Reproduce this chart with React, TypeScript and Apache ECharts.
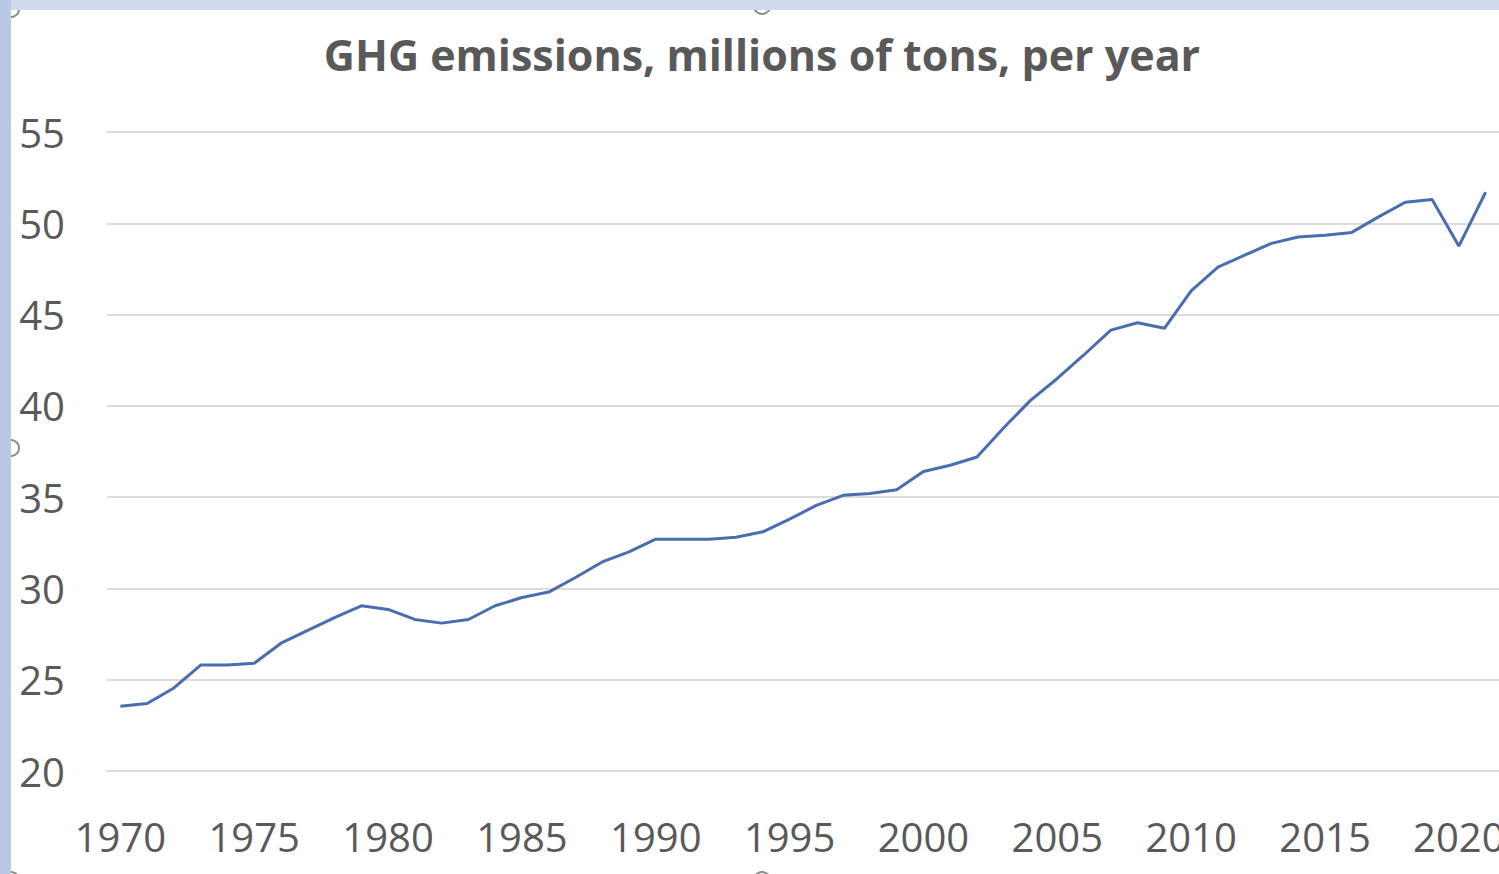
import React, { useEffect, useRef } from "react";
import * as echarts from "echarts";

// Annual greenhouse-gas emissions, 1970–2021
const years: string[] = [
  "1970", "1971", "1972", "1973", "1974", "1975", "1976", "1977", "1978", "1979",
  "1980", "1981", "1982", "1983", "1984", "1985", "1986", "1987", "1988", "1989",
  "1990", "1991", "1992", "1993", "1994", "1995", "1996", "1997", "1998", "1999",
  "2000", "2001", "2002", "2003", "2004", "2005", "2006", "2007", "2008", "2009",
  "2010", "2011", "2012", "2013", "2014", "2015", "2016", "2017", "2018", "2019",
  "2020", "2021",
];

const emissions: number[] = [
  23.55, 23.7, 24.55, 25.8, 25.8, 25.9, 27.0, 27.7, 28.4, 29.05,
  28.85, 28.3, 28.1, 28.3, 29.05, 29.5, 29.8, 30.6, 31.45, 32.0,
  32.7, 32.7, 32.7, 32.8, 33.1, 33.8, 34.55, 35.1, 35.2, 35.4,
  36.4, 36.75, 37.2, 38.8, 40.3, 41.5, 42.8, 44.15, 44.55, 44.25,
  46.3, 47.6, 48.25, 48.9, 49.25, 49.35, 49.5, 50.35, 51.15, 51.3,
  48.75, 51.7,
];

const titleText = "GHG emissions, millions of tons, per year";
const yMin = 20;
const yMax = 55;
const yStep = 5;

const textColor = "#595959";
const gridColor = "#dcdcdc";
const lineColor = "#4a6db0";
const fontFamily = "'Open Sans', sans-serif";

// Selection handles on the chart frame
const handles: { x: number; y: number }[] = [
  { x: 11, y: 9 },
  { x: 762, y: 6 },
  { x: 11, y: 448 },
  { x: 11, y: 880 },
  { x: 762, y: 880 },
];

export default function App() {
  const ref = useRef<HTMLDivElement>(null);

  useEffect(() => {
    document.body.style.margin = "0";
    if (!ref.current) return;
    const chart = echarts.init(ref.current, null, { renderer: "svg" });

    const graphic: any[] = [
      ...handles.map((h) => ({
        type: "circle",
        shape: { cx: h.x, cy: h.y, r: 8 },
        style: { fill: "#ffffff", stroke: "#8c8c8c", lineWidth: 2 },
        z: 10,
        silent: true,
      })),
      {
        type: "rect",
        shape: { x: 0, y: 0, width: 1499, height: 10 },
        style: { fill: "#cfdbed" },
        z: 20,
        silent: true,
      },
      {
        type: "rect",
        shape: { x: 0, y: 0, width: 11, height: 874 },
        style: { fill: "#b7cae5" },
        z: 21,
        silent: true,
      },
    ];

    chart.setOption({
      animation: false,
      backgroundColor: "#ffffff",
      title: {
        text: titleText,
        left: 757,
        textAlign: "center",
        top: 28,
        textStyle: {
          fontFamily,
          fontWeight: "bold",
          fontSize: 43,
          color: textColor,
        },
      },
      grid: {
        left: 107,
        top: 132,
        width: 1392,
        height: 639,
        containLabel: false,
        outerBoundsMode: "none",
      },
      xAxis: {
        type: "category",
        data: years,
        boundaryGap: true,
        axisLine: { show: true, lineStyle: { color: gridColor, width: 2 } },
        axisTick: { show: false },
        axisLabel: {
          interval: 4,
          margin: 45,
          fontFamily,
          fontSize: 40,
          color: textColor,
        },
        splitLine: { show: false },
      },
      yAxis: {
        type: "value",
        min: yMin,
        max: yMax,
        interval: yStep,
        axisLine: { show: false },
        axisTick: { show: false },
        axisLabel: {
          margin: 42,
          fontFamily,
          fontSize: 40,
          color: textColor,
        },
        splitLine: { show: true, lineStyle: { color: gridColor, width: 2 } },
      },
      series: [
        {
          type: "line",
          data: emissions,
          showSymbol: false,
          symbol: "none",
          lineStyle: { color: lineColor, width: 3 },
        },
      ],
      graphic,
    });

    return () => chart.dispose();
  }, []);

  return (
    <div
      ref={ref}
      style={{ position: "fixed", left: 0, top: 0, width: 1499, height: 874 }}
    />
  );
}
